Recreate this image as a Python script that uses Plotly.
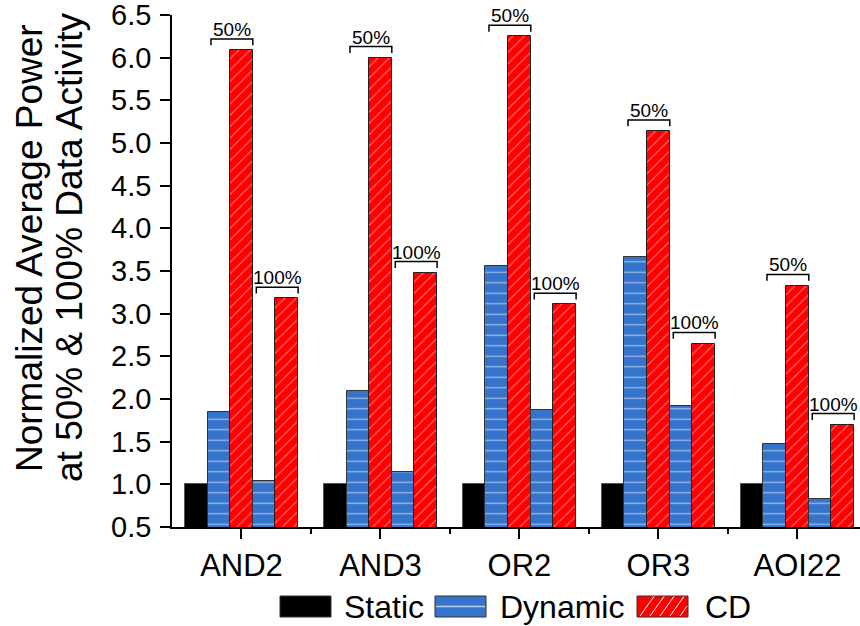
import plotly.graph_objects as go

categories = ["AND2", "AND3", "OR2", "OR3", "AOI22"]
static = [1.0, 1.0, 1.0, 1.0, 1.0]
dyn50 = [1.85, 2.09, 3.56, 3.66, 1.47]
cd50 = [6.09, 6.00, 6.25, 5.14, 3.33]
dyn100 = [1.04, 1.14, 1.87, 1.92, 0.83]
cd100 = [3.18, 3.48, 3.11, 2.65, 1.70]
y_ticks = [0.5, 1.0, 1.5, 2.0, 2.5, 3.0, 3.5, 4.0, 4.5, 5.0, 5.5, 6.0, 6.5]
bracket_labels = ["50%", "100%"]
legend_names = ["Static", "Dynamic", "CD"]
title_lines = ["Normalized Average Power", "at 50% & 100% Data Activity"]

BLUE = "#3674CC"
RED = "#FF0000"
FONT = "Liberation Sans, Arial, sans-serif"
W = 0.163

idx = list(range(len(categories)))
fig = go.Figure()

def add_bar(vals, off, kind):
    xs = [i + off * W for i in idx]
    if kind == "static":
        marker = dict(color="black", line=dict(color="#555555", width=1))
    elif kind == "dyn":
        marker = dict(color=BLUE, line=dict(color="#333333", width=1),
                      pattern=dict(shape="-", fgcolor="white", bgcolor=BLUE,
                                   size=10.5, solidity=0.12))
    else:
        marker = dict(color=RED, line=dict(color="#222222", width=1),
                      pattern=dict(shape="/", fgcolor="white", bgcolor=RED,
                                   size=8, solidity=0.13))
    fig.add_trace(go.Bar(x=xs, y=vals, width=W, marker=marker,
                         showlegend=False, hoverinfo="y"))

add_bar(static, -2, "static")
add_bar(dyn50, -1, "dyn")
add_bar(cd50, 0, "cd")
add_bar(dyn100, 1, "dyn")
add_bar(cd100, 2, "cd")

shapes = []
annotations = []
for i in idx:
    for (lab, dleft, cdv, cdoff) in [(bracket_labels[0], -1.5, cd50[i], 0),
                                     (bracket_labels[1], 0.5, cd100[i], 2)]:
        x1 = i + dleft * W + 0.025
        x2 = i + (cdoff + 0.5) * W
        ytop = cdv + 0.13
        ybot = cdv + 0.055
        shapes.append(dict(type="path", xref="x", yref="y",
                           path=f"M {x1},{ybot} L {x1},{ytop} L {x2},{ytop} L {x2},{ybot}",
                           line=dict(color="black", width=1.5)))
        annotations.append(dict(x=(x1 + x2) / 2, y=ytop, xref="x", yref="y",
                                text=lab, showarrow=False, yanchor="bottom",
                                font=dict(size=19, color="black", family=FONT),
                                yshift=-3))

# manual legend (paper coords)
def px2x(p):
    return (p - 172) / 688.0

def py2y(p):
    return (527 - p) / 512.0

sw = [(280, 331, "black"), (435, 486, BLUE), (637, 688, RED)]
txt_x = [342, 498, 703]
y0, y1 = py2y(617), py2y(596)
for k, (a, b, c) in enumerate(sw):
    shapes.append(dict(type="rect", xref="paper", yref="paper",
                       x0=px2x(a), x1=px2x(b), y0=y0, y1=y1,
                       fillcolor=c, line=dict(color="#333333", width=1)))
    annotations.append(dict(x=px2x(txt_x[k]), y=(y0 + y1) / 2, xref="paper", yref="paper",
                            text=legend_names[k], showarrow=False, xanchor="left",
                            yanchor="middle", font=dict(size=32, color="black", family=FONT)))
ym = py2y(606.5)
shapes.append(dict(type="line", xref="paper", yref="paper", x0=px2x(436), x1=px2x(485),
                   y0=ym, y1=ym, line=dict(color="#b8d0f0", width=1.5)))
for s in range(5):
    xa = 640 + s * 10
    xb = min(xa + 14, 687)
    shapes.append(dict(type="line", xref="paper", yref="paper",
                       x0=px2x(xa), x1=px2x(xb),
                       y0=py2y(616), y1=py2y(616 - (xb - xa) * 1.4),
                       line=dict(color="white", width=1)))

# y-axis title as two rotated lines
for k, (pxc, line) in enumerate(zip([29, 69], title_lines)):
    annotations.append(dict(x=px2x(pxc), y=py2y(248), xref="paper", yref="paper",
                            text=line, textangle=-90, showarrow=False,
                            xanchor="center", yanchor="middle",
                            font=dict(size=37, color="black", family=FONT)))

fig.update_layout(
    width=860, height=626,
    margin=dict(l=172, r=0, t=15, b=99),
    plot_bgcolor="white", paper_bgcolor="white",
    font=dict(family=FONT, color="black"),
    shapes=shapes, annotations=annotations,
    bargap=0, showlegend=False,
)
fig.update_xaxes(range=[-0.5, 4.45], tickmode="array", tickvals=idx, ticktext=categories,
                 ticks="outside", ticklen=10, tickwidth=1.5, tickcolor="black",
                 showline=True, linecolor="black", linewidth=1.5, showgrid=False,
                 zeroline=False, tickfont=dict(size=31), automargin=False,
                 minor=dict(tickmode="array", tickvals=[0.5, 1.5, 2.5, 3.5], ticks="outside",
                            ticklen=5, tickwidth=1.5, tickcolor="black"))
fig.update_yaxes(range=[0.5, 6.5], tickmode="array", tickvals=y_ticks,
                 ticktext=[f"{v:.1f}" for v in y_ticks],
                 ticks="outside", ticklen=10, tickwidth=1.5, tickcolor="black",
                 showline=True, linecolor="black", linewidth=1.5, showgrid=False,
                 zeroline=False, tickfont=dict(size=29), automargin=False,
                 ticklabeloverflow="allow", ticklabelstandoff=3)

fig.write_html("out.html", config={"displayModeBar": False},
               post_script="document.body.style.margin='0px';document.body.style.overflow='hidden';")
